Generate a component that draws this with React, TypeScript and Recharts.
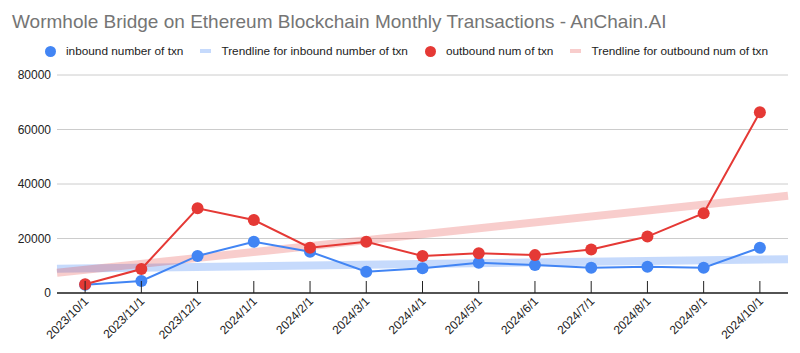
import { CartesianGrid, Line, LineChart, XAxis, YAxis } from 'recharts';

document.body.style.margin = '0';

const months = [
    '2023/10/1', '2023/11/1', '2023/12/1', '2024/1/1', '2024/2/1', '2024/3/1', '2024/4/1',
    '2024/5/1', '2024/6/1', '2024/7/1', '2024/8/1', '2024/9/1', '2024/10/1',
];
const inbound = [3000, 4400, 13600, 18800, 15150, 7800, 9050, 11100, 10280, 9300, 9650, 9300, 16600];
const outbound = [3200, 8800, 31100, 26800, 16600, 18800, 13600, 14600, 13900, 16000, 20700, 29300, 66300];

// trendlines run across the whole plot, read at its left and right edges
const trendEdges = [-0.5, 12.5];
const inboundTrend = [8900, 12400];
const outboundTrend = [7400, 35700];

const yTicks = [0, 20000, 40000, 60000, 80000];

const BLUE = '#4285f4';
const RED = '#e53935';
const FONT = 'Arial, "Liberation Sans", sans-serif';

const data = months.map((m, i) => ({ idx: i, month: m, inbound: inbound[i], outbound: outbound[i] }));
const inTrendData = trendEdges.map((x, i) => ({ idx: x, trend: inboundTrend[i] }));
const outTrendData = trendEdges.map((x, i) => ({ idx: x, trend: outboundTrend[i] }));

const legendItems = [
    { label: 'inbound number of txn', color: BLUE, kind: 'dot' },
    { label: 'Trendline for inbound number of txn', color: '#c6dafc', kind: 'dash' },
    { label: 'outbound num of txn', color: RED, kind: 'dot' },
    { label: 'Trendline for outbound num of txn', color: '#f8cdcc', kind: 'dash' },
];

const XTick = ({ x, y, payload }: any) => (
    <g>
        <line x1={x} x2={x} y1={y - 12} y2={y} stroke="#222" strokeWidth={1} />
        <text
            transform={`translate(${x + 4},${y + 9}) rotate(-45)`}
            textAnchor="end"
            fontSize={12}
            fill="#222"
            fontFamily={FONT}
        >
            {months[payload.value]}
        </text>
    </g>
);

const LegendRow = () => (
    <div
        style={{
            position: 'absolute',
            left: 45,
            top: 44,
            display: 'flex',
            alignItems: 'center',
            fontSize: 11.8,
            lineHeight: '14px',
            color: '#222',
            fontFamily: FONT,
            whiteSpace: 'nowrap',
        }}
    >
        {legendItems.map((item) => (
            <div key={item.label} style={{ display: 'flex', alignItems: 'center', marginRight: 17 }}>
                {item.kind === 'dot' ? (
                    <span style={{ width: 11, height: 11, borderRadius: '50%', background: item.color, marginRight: 10 }} />
                ) : (
                    <span style={{ width: 11, height: 4, background: item.color, marginRight: 10 }} />
                )}
                <span>{item.label}</span>
            </div>
        ))}
    </div>
);

const App = () => (
    <div style={{ position: 'relative', width: 800, height: 353, background: '#fff', fontFamily: FONT }}>
        <div style={{ position: 'absolute', left: 12, top: 12, fontSize: 19, lineHeight: '20px', color: '#757575' }}>
            Wormhole Bridge on Ethereum Blockchain Monthly Transactions - AnChain.AI
        </div>
        <LegendRow />
        <LineChart width={800} height={353} data={data} margin={{ top: 75, right: 12, left: 0, bottom: 0 }}>
            <CartesianGrid vertical={false} stroke="#cccccc" />
            <XAxis
                dataKey="idx"
                type="number"
                domain={[-0.5, 12.5]}
                ticks={months.map((_, i) => i)}
                interval={0}
                height={60}
                tickSize={0}
                tickMargin={0}
                tick={<XTick />}
                axisLine={{ stroke: '#222', strokeWidth: 1.5 }}
            />
            <YAxis
                domain={[0, 80000]}
                ticks={yTicks}
                width={57}
                axisLine={false}
                tickLine={false}
                tickSize={0}
                tickMargin={6}
                tick={{ fontSize: 12, fill: '#222', fontFamily: FONT }}
            />
            <Line
                data={inTrendData}
                dataKey="trend"
                stroke={BLUE}
                strokeOpacity={0.3}
                strokeWidth={8}
                dot={false}
                activeDot={false}
                isAnimationActive={false}
            />
            <Line
                data={outTrendData}
                dataKey="trend"
                stroke={RED}
                strokeOpacity={0.25}
                strokeWidth={8}
                dot={false}
                activeDot={false}
                isAnimationActive={false}
            />
            <Line
                dataKey="inbound"
                stroke={BLUE}
                strokeWidth={2}
                dot={{ r: 6, fill: BLUE, stroke: BLUE, strokeWidth: 0 }}
                activeDot={false}
                isAnimationActive={false}
            />
            <Line
                dataKey="outbound"
                stroke={RED}
                strokeWidth={2}
                dot={{ r: 6, fill: RED, stroke: RED, strokeWidth: 0 }}
                activeDot={false}
                isAnimationActive={false}
            />
        </LineChart>
    </div>
);

export default App;
